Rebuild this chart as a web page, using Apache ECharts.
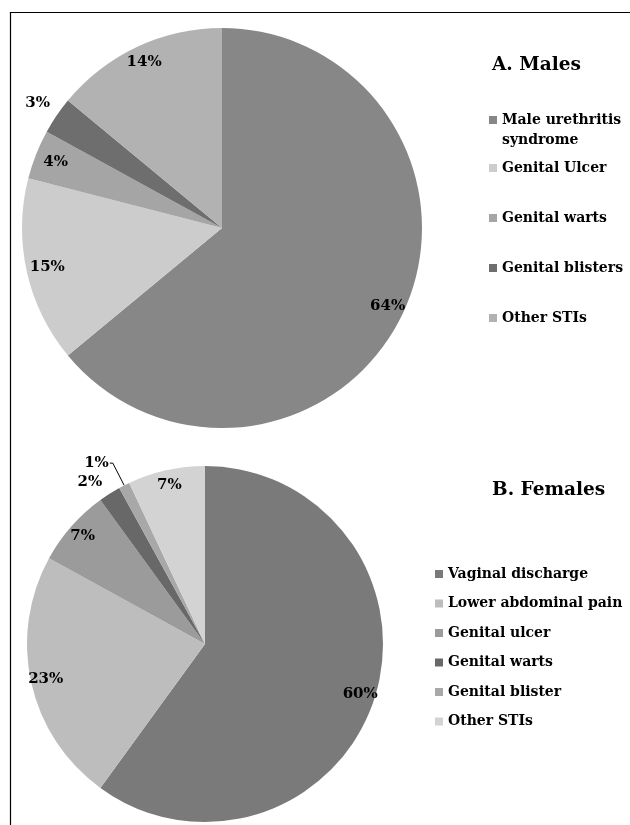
<!DOCTYPE html>
<html>
<head>
<meta charset="utf-8">
<script src="https://cdn.jsdelivr.net/npm/echarts@6/dist/echarts.min.js"></script>
<style>html,body{margin:0;padding:0;background:#fff}#c{width:630px;height:825px}</style>
</head>
<body>
<div id="c"></div>
<script>
// ---- data ----
const maleCategories = ['Male urethritis syndrome', 'Genital Ulcer', 'Genital warts', 'Genital blisters', 'Other STIs'];
const maleValues = [64, 15, 4, 3, 14];
const femaleCategories = ['Vaginal discharge', 'Lower abdominal pain', 'Genital ulcer', 'Genital warts', 'Genital blister', 'Other STIs'];
const femaleValues = [60, 23, 7, 2, 1, 7];
const panelTitles = ['A. Males', 'B. Females'];

// ---- styles ----
const maleColors = ['#878787', '#cccccc', '#a5a5a5', '#6e6e6e', '#b2b2b2'];
const femaleColors = ['#7a7a7a', '#bdbdbd', '#9b9b9b', '#686868', '#a8a8a8', '#d3d3d3'];
// placement of each percentage label: radius as a fraction of the pie radius (null = leader-line label),
// and a small angular turn (degrees) away from the slice's mid-angle
const maleLabelRadius = [0.9, 0.88, 0.88, 1.1, 0.9];
const maleLabelTurn = [0, 0, 0, 0, 0];
const femaleLabelRadius = [0.9, 0.9, 0.9, 1.1, null, 0.9];
const femaleLabelTurn = [0, 0, 0, -3, 0, 0];
const FONT = 'DejaVu Serif';

const malePie = { center: [222, 228], r: 200 };
const femalePie = { center: [205, 644], r: 178 };

function pctLabel(v) { return v + '%'; }

function visibleSeries(cats, vals, colors, pie, radii) {
  return {
    type: 'pie', silent: true, animation: false,
    center: pie.center, radius: [0, pie.r],
    startAngle: 90, clockwise: true,
    labelLayout: { hideOverlap: false },
    itemStyle: { borderWidth: 0 },
    data: cats.map((c, i) => {
      const lead = radii[i] === null;
      return {
        name: c, value: vals[i],
        itemStyle: { color: colors[i] },
        label: lead ? {
          show: true, position: 'outside', formatter: pctLabel(vals[i]),
          distanceToLabelLine: 1,
          fontFamily: FONT, fontWeight: 'bold', fontSize: 15, color: '#000'
        } : { show: false },
        labelLine: lead ? {
          show: true, length: 25, length2: 3, lineStyle: { color: '#000', width: 1 }
        } : { show: false }
      };
    })
  };
}

function labelSeries(cats, vals, pie, radii, turns) {
  const total = vals.reduce((a, b) => a + b, 0);
  let cum = 0;
  const base = 0.9;
  return {
    type: 'pie', silent: true, animation: false,
    center: pie.center, radius: [0, pie.r * base * 2],
    startAngle: 90, clockwise: true, z: 5,
    avoidLabelOverlap: false,
    labelLayout: { hideOverlap: false },
    itemStyle: { color: 'rgba(0,0,0,0)', borderWidth: 0 },
    labelLine: { show: false },
    data: cats.map((c, i) => {
      const midDeg = -90 + 360 * (cum + vals[i] / 2) / total;
      cum += vals[i];
      const f = radii[i];
      let off = [0, 0];
      if (f !== null) {
        const a0 = midDeg * Math.PI / 180;
        const a1 = (midDeg + turns[i]) * Math.PI / 180;
        off = [
          Math.cos(a1) * f * pie.r - Math.cos(a0) * base * pie.r,
          Math.sin(a1) * f * pie.r - Math.sin(a0) * base * pie.r
        ];
      }
      return {
        name: c, value: vals[i],
        label: f !== null ? {
          show: true, position: 'inside', formatter: pctLabel(vals[i]),
          offset: off,
          fontFamily: FONT, fontWeight: 'bold', fontSize: 15, color: '#000'
        } : { show: false }
      };
    })
  };
}

const legendText = { fontFamily: FONT, fontWeight: 'bold', fontSize: 14, color: '#000', lineHeight: 18 };
const titleText = { fontFamily: FONT, fontWeight: 'bold', fontSize: 18.5, color: '#000' };

const option = {
  backgroundColor: '#fff',
  animation: false,
  graphic: [{
    type: 'rect', silent: true,
    shape: { x: 10.5, y: 12.5, width: 700, height: 900 },
    style: { fill: 'none', stroke: '#000', lineWidth: 1.2 }
  }],
  title: [
    { text: panelTitles[0], left: 492, top: 56, padding: 0, textStyle: titleText },
    { text: panelTitles[1], left: 492, top: 481, padding: 0, textStyle: titleText }
  ],
  legend: [
    { orient: 'vertical', left: 489, top: 110, padding: 0, itemWidth: 8, itemHeight: 28,
      icon: 'path://M0,0H8V8H0Z M0,28H0.01',
      selectedMode: false, textStyle: Object.assign({}, legendText, { lineHeight: 20 }),
      formatter: n => n.replace('urethritis ', 'urethritis\n'),
      data: [{ name: maleCategories[0], itemStyle: { color: maleColors[0] } }] },
    { orient: 'vertical', left: 489, top: 159, padding: 0, itemWidth: 8, itemHeight: 8, icon: 'rect',
      itemGap: 32, selectedMode: false, textStyle: legendText,
      data: maleCategories.slice(1).map((n, i) => ({ name: n, itemStyle: { color: maleColors[i + 1] } })) },
    { orient: 'vertical', left: 435, top: 565, padding: 0, itemWidth: 8, itemHeight: 8, icon: 'rect',
      itemGap: 11.5, selectedMode: false, textStyle: legendText,
      data: femaleCategories.map((n, i) => ({ name: n, itemStyle: { color: femaleColors[i] } })) }
  ],
  series: [
    visibleSeries(maleCategories, maleValues, maleColors, malePie, maleLabelRadius),
    visibleSeries(femaleCategories, femaleValues, femaleColors, femalePie, femaleLabelRadius),
    labelSeries(maleCategories, maleValues, malePie, maleLabelRadius, maleLabelTurn),
    labelSeries(femaleCategories, femaleValues, femalePie, femaleLabelRadius, femaleLabelTurn)
  ]
};

const chart = echarts.init(document.getElementById('c'), null, { renderer: 'canvas' });
chart.setOption(option);
</script>
</body>
</html>
